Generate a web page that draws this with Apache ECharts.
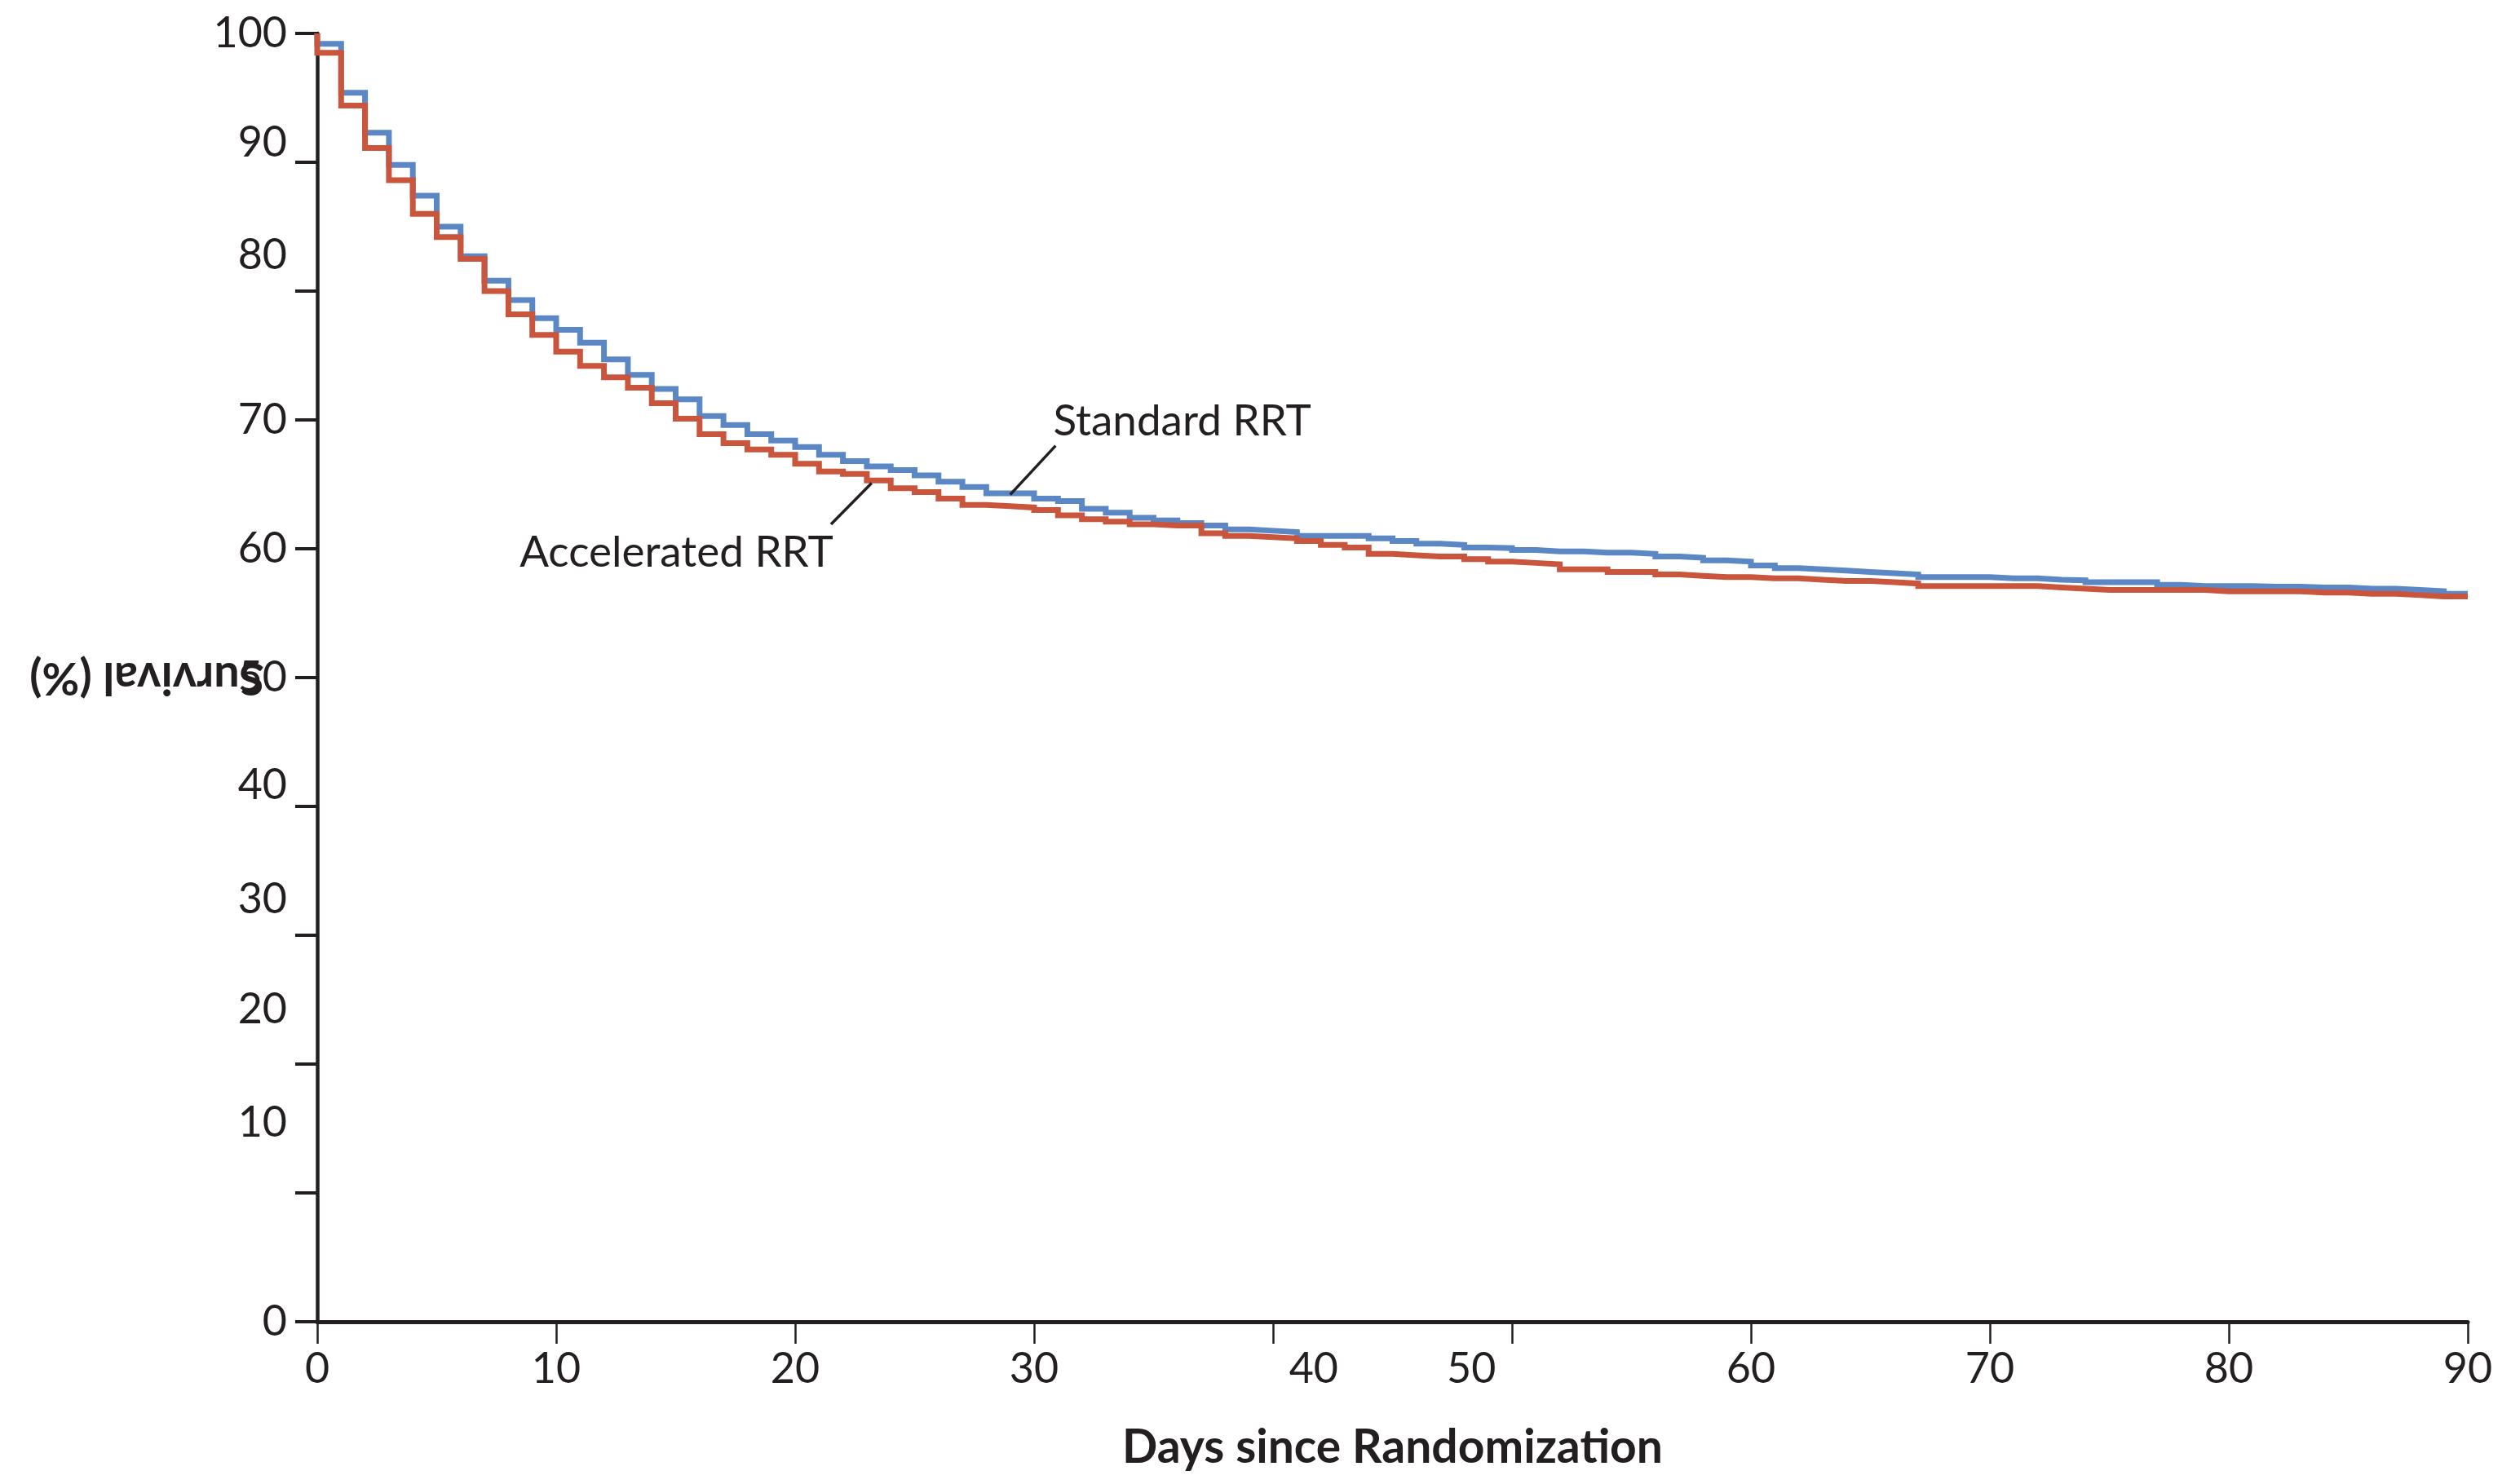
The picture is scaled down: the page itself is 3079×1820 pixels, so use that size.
<!DOCTYPE html>
<html>
<head>
<meta charset="utf-8">
<script src="https://cdn.jsdelivr.net/npm/echarts@6/dist/echarts.min.js"></script>
<style>
  html, body { margin: 0; padding: 0; background: #ffffff; }
  #chart { width: 3079px; height: 1820px; }
</style>
</head>
<body>
<div id="chart"></div>
<script>
// ---------- data ----------
const days = [0,1,2,3,4,5,6,7,8,9,10,11,12,13,14,15,16,17,18,19,20,21,22,23,24,25,26,27,28,29,30,
  31,32,33,34,35,36,37,38,39,40,41,42,43,44,45,46,47,48,49,50,51,52,53,54,55,56,57,58,59,60,
  61,62,63,64,65,66,67,68,69,70,71,72,73,74,75,76,77,78,79,80,81,82,83,84,85,86,87,88,89,90];

const startSurvival = 100;

const standardRRT = [99.2,95.4,92.3,89.8,87.4,85.0,82.7,80.8,79.3,77.9,77.0,76.0,74.7,73.5,72.4,71.6,
  70.3,69.6,68.9,68.4,67.9,67.3,66.8,66.4,66.1,65.7,65.2,64.8,64.3,64.3,63.9,
  63.7,63.1,62.8,62.4,62.2,62.0,61.8,61.5,61.4,61.3,61.0,61.0,61.0,60.8,60.6,60.4,60.3,60.1,60.05,59.9,
  59.8,59.8,59.7,59.7,59.6,59.4,59.3,59.1,59.0,58.7,
  58.5,58.4,58.3,58.2,58.1,58.0,57.8,57.8,57.8,57.7,57.7,57.6,57.55,57.4,57.4,57.4,57.2,57.1,57.1,57.1,
  57.05,57.05,57.0,57.0,56.9,56.9,56.8,56.7,56.5,56.5];

const acceleratedRRT = [98.5,94.4,91.1,88.6,86.0,84.2,82.5,80.0,78.2,76.6,75.3,74.2,73.3,72.5,71.3,70.1,
  68.9,68.2,67.7,67.3,66.6,66.0,65.8,65.3,64.7,64.4,63.9,63.4,63.3,63.2,63.0,
  62.6,62.3,62.1,61.9,61.8,61.8,61.2,61.0,60.9,60.8,60.6,60.3,60.1,59.6,59.5,59.4,59.4,59.2,59.0,58.9,
  58.8,58.4,58.4,58.2,58.2,58.0,57.9,57.8,57.8,57.7,
  57.7,57.6,57.5,57.5,57.4,57.3,57.1,57.1,57.1,57.1,57.1,57.0,56.9,56.8,56.8,56.8,56.8,56.8,56.7,56.7,
  56.7,56.7,56.6,56.6,56.5,56.5,56.4,56.3,56.3,56.3];

const seriesNames = ['Standard RRT', 'Accelerated RRT'];

// tick values and tick labels
const yTicks = [0,10,20,30,40,50,60,70,80,90,100];
const yTickLabels = ['0','10','20','30','40','50','60','70','80','90','100'];
const yLabelAt = [0,15.4,24.2,32.8,41.6,50,60,70,82.8,91.5,100];   // where the original prints each label
const xTicks = [0,10,20,30,40,50,60,70,80,90];
const xTickLabels = ['0','10','20','30','40','50','60','70','80','90'];
const xLabelAt = [0,10,20,30,41.7,48.3,60,70,80,90];

const xTitle = 'Days since Randomization';
const yTitle = 'Survival (%)';

// annotations (data coordinates)
const annotations = [
  { text: 'Standard RRT', anchor: [30.8, 69.9], align: 'left', from: [30.9, 68.0], to: [29.0, 64.2] },
  { text: 'Accelerated RRT', anchor: [21.6, 59.7], align: 'right', from: [21.5, 61.9], to: [23.2, 65.1] }
];

// ---------- chart ----------
const FONT = 'Lato, "Open Sans", sans-serif';
const INK = '#231f20';
const BLUE = '#5b87c4';
const RED = '#c9553c';

function build(vals) {
  const out = [[0, startSurvival]];
  for (let i = 0; i < days.length; i++) out.push([days[i], vals[i]]);
  return out;
}
function nearestLabel(v, at, labels) {
  let best = 0, bd = Infinity;
  for (let i = 0; i < at.length; i++) { const d = Math.abs(at[i] - v); if (d < bd) { bd = d; best = i; } }
  return labels[best];
}

const chart = echarts.init(document.getElementById('chart'), null, { renderer: 'canvas' });

const option = {
  animation: false,
  backgroundColor: '#ffffff',
  textStyle: { fontFamily: FONT },
  grid: { left: 389, right: 53, top: 41, bottom: 199, containLabel: false, outerBoundsMode: 'none' },
  xAxis: {
    type: 'value', min: 0, max: 90, interval: 10,
    axisLine: { show: true, onZero: false, lineStyle: { color: INK, width: 5 } },
    axisTick: { show: true, length: 27, lineStyle: { color: INK, width: 2.5 }, customValues: xTicks },
    axisLabel: {
      show: true, customValues: xLabelAt, margin: 32,
      color: INK, fontSize: 52, fontFamily: FONT,
      formatter: v => nearestLabel(v, xLabelAt, xTickLabels)
    },
    splitLine: { show: false },
    name: xTitle, nameLocation: 'middle', nameGap: 126, nameMoveOverlap: false,
    nameTextStyle: { color: INK, fontSize: 57, fontWeight: 'bold', fontFamily: FONT }
  },
  yAxis: {
    type: 'value', min: 0, max: 100, interval: 10,
    axisLine: { show: true, onZero: false, lineStyle: { color: INK, width: 4.5 } },
    axisTick: { show: true, length: 27, lineStyle: { color: INK, width: 4 }, customValues: yTicks },
    axisLabel: {
      show: true, customValues: yLabelAt, margin: 37,
      color: INK, fontSize: 52, fontFamily: FONT,
      formatter: v => nearestLabel(v, yLabelAt, yTickLabels)
    },
    splitLine: { show: false },
    name: yTitle, nameLocation: 'middle', nameRotate: 180, nameGap: 209, nameMoveOverlap: false,
    nameTextStyle: { color: INK, fontSize: 56, fontWeight: 'bold', fontFamily: FONT, align: 'center', verticalAlign: 'middle' }
  },
  series: [
    {
      name: seriesNames[0], type: 'line', step: 'end', showSymbol: false, symbol: 'none',
      data: build(standardRRT),
      lineStyle: { color: BLUE, width: 7, cap: 'butt', join: 'miter' },
      itemStyle: { color: BLUE }, z: 3, silent: true
    },
    {
      name: seriesNames[1], type: 'line', step: 'end', showSymbol: false, symbol: 'none',
      data: build(acceleratedRRT),
      lineStyle: { color: RED, width: 7, cap: 'butt', join: 'miter' },
      itemStyle: { color: RED }, z: 4, silent: true
    }
  ]
};
chart.setOption(option);

// annotations placed from data coordinates
const gfx = [];
annotations.forEach(a => {
  const p = chart.convertToPixel({ gridIndex: 0 }, a.anchor);
  const f = chart.convertToPixel({ gridIndex: 0 }, a.from);
  const t = chart.convertToPixel({ gridIndex: 0 }, a.to);
  gfx.push({
    type: 'text', x: p[0], y: p[1], silent: true, z: 10,
    style: { text: a.text, fill: INK, font: '53px ' + FONT, textAlign: a.align, textVerticalAlign: 'middle' }
  });
  gfx.push({
    type: 'line', silent: true, z: 10,
    shape: { x1: f[0], y1: f[1], x2: t[0], y2: t[1] },
    style: { stroke: INK, lineWidth: 3.5 }
  });
});
chart.setOption({ graphic: gfx });
</script>
</body>
</html>
